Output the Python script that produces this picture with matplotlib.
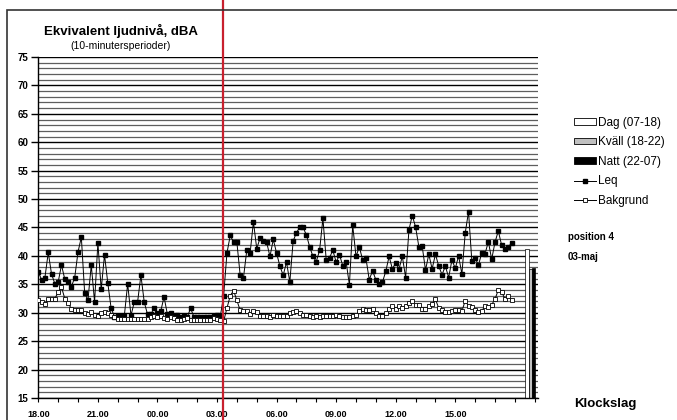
import matplotlib
matplotlib.use('Agg')
import matplotlib.pyplot as plt
import numpy as np
from matplotlib.lines import Line2D
from matplotlib.patches import Patch, Rectangle

plt.rcParams['font.family'] = ['Liberation Sans', 'DejaVu Sans']

# 10-minute values from 18.00 to 17.50 next day
leq = [37.2, 35.8, 36.2, 40.6, 36.8, 35.1, 35.4, 38.4, 35.9, 35.4,
       34.6, 36.2, 40.7, 43.3, 33.5, 32.2, 38.4, 31.9, 42.3, 34.1,
       40.2, 35.2, 30.8, 29.3, 29.5, 29.5, 29.5, 35.1, 29.5, 31.9,
       31.9, 36.6, 31.9, 29.7, 29.7, 30.9, 30.0, 30.3, 32.8, 29.7,
       30.0, 29.5, 29.6, 29.2, 29.4, 29.2, 30.8, 29.3, 29.2, 29.2,
       29.2, 29.2, 29.2, 29.5, 29.6, 29.4, 33.0, 40.5, 43.6, 42.4,
       42.4, 36.6, 36.2, 41.0, 40.5, 46.0, 41.3, 43.1, 42.6, 42.4,
       39.9, 42.9, 40.5, 38.2, 36.6, 38.9, 35.4, 42.6, 44.1, 45.0,
       45.0, 43.7, 41.6, 39.9, 39.0, 41.0, 46.6, 39.3, 39.7, 41.0,
       38.9, 40.2, 38.3, 39.0, 34.9, 45.4, 39.9, 41.6, 39.3, 39.6,
       35.8, 37.4, 35.8, 35.1, 35.4, 37.3, 39.9, 37.7, 38.8, 37.7,
       39.9, 36.2, 44.6, 47.1, 45.1, 41.6, 41.7, 37.5, 40.3, 37.7,
       40.3, 38.2, 36.7, 38.2, 36.2, 39.3, 37.8, 40.0, 36.8, 44.0,
       47.8, 39.1, 39.6, 38.4, 40.5, 40.4, 42.5, 39.4, 42.4, 44.4,
       41.9, 41.2, 41.5, 42.3]

bakgrund = [32.2, 31.9, 31.5, 32.5, 32.5, 32.5, 33.6, 34.5, 32.5, 31.7,
            30.7, 30.5, 30.5, 30.4, 30.0, 29.8, 30.2, 29.6, 29.5, 29.9,
            30.2, 30.0, 29.6, 29.2, 28.9, 28.9, 28.9, 28.9, 28.9, 28.9,
            28.9, 28.9, 28.9, 28.9, 29.3, 29.5, 29.3, 29.5, 29.0, 28.9,
            29.3, 29.0, 28.8, 28.8, 28.9, 29.0, 28.8, 28.8, 28.8, 28.8,
            28.8, 28.8, 28.8, 29.0, 28.9, 28.8, 28.5, 30.8, 33.0, 33.9,
            32.2, 30.4, 30.3, 30.3, 29.8, 30.3, 30.1, 29.4, 29.4, 29.4,
            29.3, 29.6, 29.4, 29.4, 29.4, 29.4, 29.9, 30.1, 30.3, 29.9,
            29.6, 29.6, 29.4, 29.3, 29.4, 29.3, 29.4, 29.4, 29.4, 29.5,
            29.6, 29.4, 29.3, 29.3, 29.3, 29.4, 29.6, 30.3, 30.6, 30.5,
            30.5, 30.6, 29.9, 29.4, 29.4, 29.9, 30.6, 31.1, 30.6, 31.2,
            30.8, 31.2, 31.7, 32.1, 31.4, 31.4, 30.6, 30.6, 31.1, 31.5,
            32.4, 30.8, 30.5, 30.1, 30.2, 30.3, 30.4, 30.4, 30.3, 32.1,
            31.2, 31.0, 30.4, 30.2, 30.3, 31.2, 31.0, 31.4, 32.4, 34.0,
            33.7, 32.4, 33.0, 32.2]

period_labels = ['Dag (07-18)', 'Kväll (18-22)', 'Natt (22-07)']
period_levels = [41.2, 37.7, 37.9]
period_colors = ['white', '#c0c0c0', 'black']

hour_labels = ['18.00', '21.00', '00.00', '03.00', '06.00', '09.00', '12.00', '15.00']

x = np.arange(len(leq))

fig = plt.figure(figsize=(6.77, 4.2), dpi=100)
ax = fig.add_axes([0.0566, 0.0524, 0.7381, 0.8119])

# dense horizontal grid, one line per dBA
for v in range(15, 76):
    if v % 5 == 0:
        ax.axhline(v, color='black', lw=1.0, zorder=0)
    else:
        ax.axhline(v, color='#5e5e5e', lw=0.9, zorder=0)

# period averages as columns at the end of the day
bar_x = [147.7, 148.7, 149.7]
for bx, lvl, col in zip(bar_x, period_levels, period_colors):
    ax.bar(bx, lvl - 15, bottom=15, width=1.0, color=col,
           edgecolor='black', linewidth=0.5, zorder=2)

ax.plot(x, leq, color='black', lw=0.7, marker='s', ms=3.0,
        mfc='black', mec='black', zorder=3)
ax.plot(x, bakgrund, color='black', lw=0.7, marker='s', ms=3.0,
        mfc='white', mec='black', mew=0.6, zorder=4)

# measurement start marker
ax.axvline(55.8, ymin=-0.07, ymax=1.17, color='#c8202e', lw=1.6,
           clip_on=False, zorder=5)

ax.set_xlim(0, 151)
ax.set_ylim(15, 75)
ax.set_yticks(range(15, 80, 5))
ax.set_xticks(np.arange(0, 127, 18))
ax.set_xticklabels(hour_labels)
ax.set_xticks(np.arange(0, 151, 6), minor=True)

for s in ['top', 'right']:
    ax.spines[s].set_visible(False)
ax.spines['left'].set_linewidth(1.0)
ax.spines['bottom'].set_linewidth(1.0)
ax.tick_params(axis='y', length=5, width=1.0, pad=2, labelsize=7)
ax.tick_params(axis='x', which='both', length=3, width=0.8, pad=6, labelsize=6.5)
for lbl in ax.get_xticklabels() + ax.get_yticklabels():
    lbl.set_fontweight('bold')

# outer frame, its right and bottom edges fall outside the canvas
fig.add_artist(Rectangle((7 / 677, -0.2), 1.2, 1.2 - 10 / 420,
                         transform=fig.transFigure, fill=False,
                         edgecolor='#333333', lw=1.2))

fig.text(121 / 677, 1 - 31 / 420, 'Ekvivalent ljudnivå, dBA', ha='center',
         va='center', fontsize=9.5, fontweight='bold')
fig.text(121 / 677, 1 - 46 / 420, '(10-minutersperioder)', ha='center',
         va='center', fontsize=7.5)

handles = [Patch(facecolor=c, edgecolor='black', lw=0.6) for c in period_colors]
handles += [Line2D([], [], color='black', lw=0.7, marker='s', ms=3.0,
                   mfc='black', mec='black'),
            Line2D([], [], color='black', lw=0.7, marker='s', ms=3.0,
                   mfc='white', mec='black', mew=0.6)]
labels = period_labels + ['Leq', 'Bakgrund']
fig.legend(handles, labels, loc='upper left',
           bbox_to_anchor=(569 / 677, 1 - 112 / 420), frameon=False,
           fontsize=8.5, handlelength=1.9, handleheight=0.5,
           handletextpad=0.15, labelspacing=0.64, borderaxespad=0)

fig.text(568 / 677, 1 - 237 / 420, 'position 4', fontsize=7,
         fontweight='bold', va='center')
fig.text(568 / 677, 1 - 257 / 420, '03-maj', fontsize=7,
         fontweight='bold', va='center')
fig.text(574 / 677, 1 - 404 / 420, 'Klockslag', fontsize=9.5,
         fontweight='bold', va='center')

fig.savefig('out.png', dpi=100)
